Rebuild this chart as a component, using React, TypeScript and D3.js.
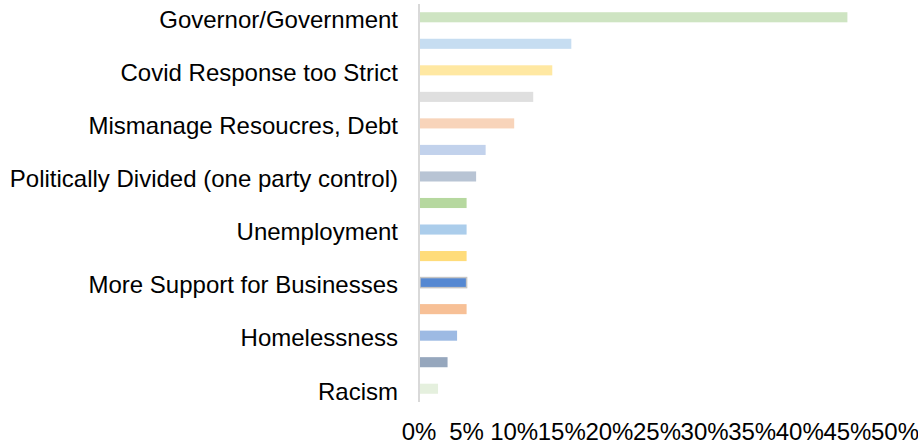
import React from "react";
import * as d3 from "d3";

const categories: string[] = [
  "Governor/Government",
  "",
  "Covid Response too Strict",
  "",
  "Mismanage Resoucres, Debt",
  "",
  "Politically Divided (one party control)",
  "",
  "Unemployment",
  "",
  "More Support for Businesses",
  "",
  "Homelessness",
  "",
  "Racism",
];
const values: number[] = [0.45, 0.16, 0.14, 0.12, 0.1, 0.07, 0.06, 0.05, 0.05, 0.05, 0.05, 0.05, 0.04, 0.03, 0.02];
const colors: string[] = [
  "#cee4c2", "#c6ddf1", "#ffe8a2", "#dfdfdf", "#f8d4ba", "#c2d2ec", "#b8c4d4",
  "#b6d89f", "#abcdeb", "#ffdc7a", "#5588d2", "#f7c096", "#9dbae3", "#96a7bd", "#e5f0de",
];
const ticks: number[] = [0, 0.05, 0.1, 0.15, 0.2, 0.25, 0.3, 0.35, 0.4, 0.45, 0.5];

const W = 918;
const H = 446;

export default function App() {
  const x = d3.scaleLinear().domain([0, 0.5]).range([419, 895]);
  const y = d3
    .scaleBand<number>()
    .domain(categories.map((_, i) => i))
    .range([4, 402])
    .paddingInner(0.62)
    .paddingOuter(0.31);
  const fmt = d3.format(".0%");
  const font = "'Liberation Sans', Arial, Helvetica, sans-serif";
  return (
    <svg
      width={W}
      height={H}
      style={{ position: "absolute", left: 0, top: 0, background: "#fff" }}
      fontFamily={font}
    >
      {values.map((v, i) => (
        <rect
          key={i}
          x={x(0) + 1}
          y={y(i)!}
          width={x(v) - x(0) - 1}
          height={y.bandwidth()}
          fill={colors[i]}
          stroke={i === 10 ? "#c4c4c4" : "none"}
          strokeWidth={i === 10 ? 1.5 : 0}
        />
      ))}
      <line x1={x(0)} x2={x(0)} y1={4} y2={402} stroke="#d9d9d9" strokeWidth={2} />
      {categories.map((c, i) =>
        c ? (
          <text
            key={i}
            x={398}
            y={y(i)! + y.bandwidth() / 2}
            dy="0.45em"
            textAnchor="end"
            fontSize={24}
            fill="#000"
          >
            {c}
          </text>
        ) : null
      )}
      {ticks.map((t, i) => (
        <text key={i} x={x(t)} y={440} textAnchor="middle" fontSize={24} fill="#000">
          {fmt(t)}
        </text>
      ))}
    </svg>
  );
}
